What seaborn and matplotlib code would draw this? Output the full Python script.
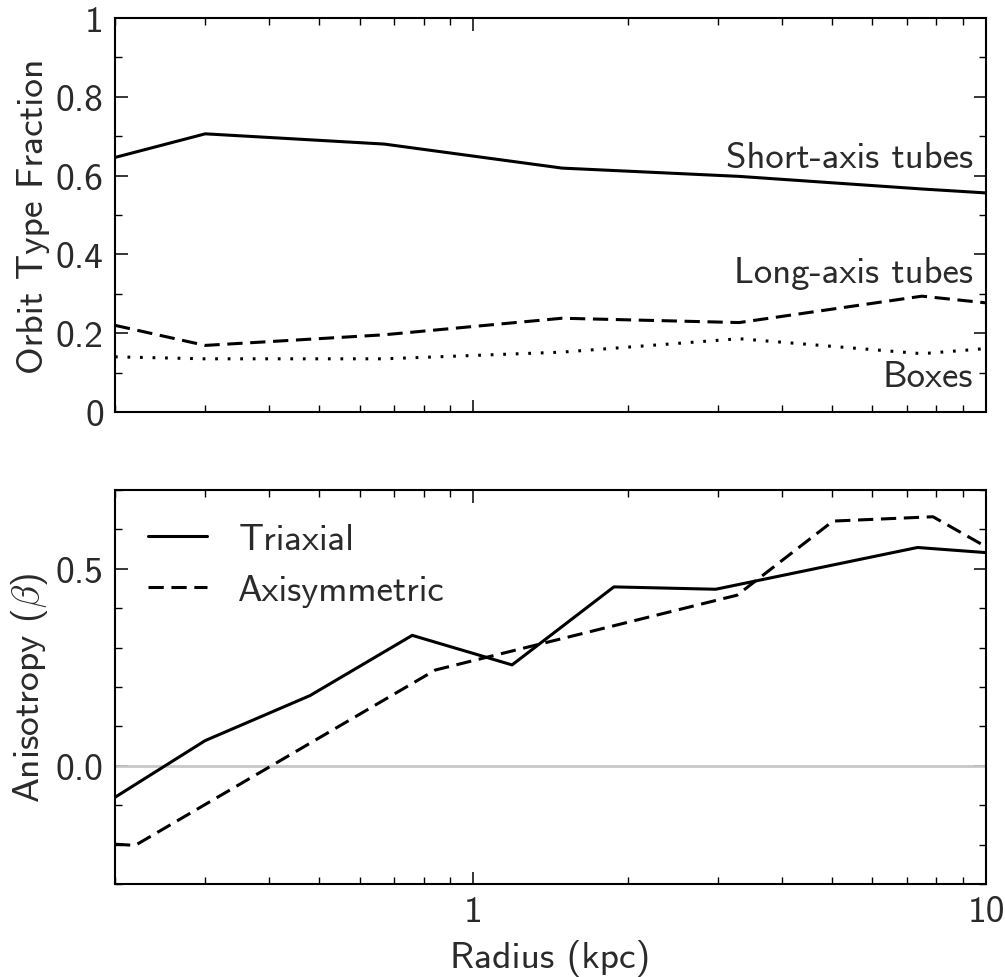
import numpy as np
import pandas as pd
import matplotlib
matplotlib.use("Agg")
import matplotlib.pyplot as plt
import matplotlib.ticker as mticker
import seaborn as sns

# ---- data ----
radius_top = [0.2, 0.3, 0.67, 1.49, 3.3, 7.5, 10.0]
short_axis = [0.646, 0.706, 0.680, 0.619, 0.598, 0.566, 0.556]
long_axis = [0.220, 0.169, 0.196, 0.238, 0.227, 0.294, 0.277]
boxes = [0.140, 0.135, 0.135, 0.152, 0.186, 0.148, 0.161]

radius_tri = [0.2, 0.3, 0.48, 0.76, 1.19, 1.88, 2.97, 7.35, 10.0]
beta_tri = [-0.080, 0.064, 0.178, 0.331, 0.256, 0.454, 0.448, 0.554, 0.541]

radius_axi = [0.2, 0.219, 0.843, 3.27, 5.03, 7.88, 10.0]
beta_axi = [-0.199, -0.202, 0.243, 0.433, 0.621, 0.632, 0.556]

top_labels = ["Short-axis tubes", "Long-axis tubes", "Boxes"]
legend_labels = ["Triaxial", "Axisymmetric"]

sns.set_theme(style="ticks")
plt.rcParams.update({
    "font.family": ["cmss10", "DejaVu Sans"],
    "mathtext.fontset": "cm",
    "axes.unicode_minus": False,
    "axes.formatter.use_mathtext": True,
    "xtick.direction": "in",
    "ytick.direction": "in",
    "xtick.top": True,
    "ytick.right": True,
    "xtick.major.size": 9,
    "ytick.major.size": 9,
    "xtick.minor.size": 5,
    "ytick.minor.size": 5,
    "xtick.major.width": 1.1,
    "ytick.major.width": 1.1,
    "xtick.minor.width": 1.0,
    "ytick.minor.width": 1.0,
    "axes.linewidth": 1.5,
    "axes.edgecolor": "black",
    "xtick.color": "black",
    "ytick.color": "black",
    "xtick.labelcolor": "#2a2a2a",
    "ytick.labelcolor": "#2a2a2a",
    "text.color": "#2a2a2a",
    "axes.labelcolor": "#2a2a2a",
})

fig = plt.figure(figsize=(10.05, 9.78), dpi=100)
ax1 = fig.add_axes([0.1144, 0.5777, 0.8667, 0.4029])
ax2 = fig.add_axes([0.1144, 0.0951, 0.8667, 0.4029])

lw = 2.2
dash_style = (0, (5.0, 2.5))
dot_style = (0, (0.9, 3.2))
FS = 26.5

for ax in (ax1, ax2):
    ax.set_xscale("log")

df_top = pd.DataFrame({"r": radius_top, "s": short_axis, "l": long_axis, "b": boxes})
sns.lineplot(data=df_top, x="r", y="s", ax=ax1, color="black", lw=lw, linestyle="-")
sns.lineplot(data=df_top, x="r", y="l", ax=ax1, color="black", lw=lw, linestyle=dash_style)
sns.lineplot(data=df_top, x="r", y="b", ax=ax1, color="black", lw=lw, linestyle=dot_style)

ax1.set_xlim(0.2, 10)
ax1.set_ylim(0, 1)
ax1.yaxis.set_major_locator(mticker.FixedLocator([0, 0.2, 0.4, 0.6, 0.8, 1.0]))
ax1.yaxis.set_major_formatter(mticker.FixedFormatter(["0", "0.2", "0.4", "0.6", "0.8", "1"]))
ax1.yaxis.set_minor_locator(mticker.MultipleLocator(0.1))
ax1.set_ylabel("Orbit Type Fraction", fontsize=FS + 0.5)
ax1.set_xlabel("")
ax1.tick_params(axis="x", which="both", labelbottom=False)

tx = 0.985
ax1.text(tx, 0.622, top_labels[0], transform=ax1.transAxes, ha="right", va="baseline", fontsize=FS)
ax1.text(tx, 0.330, top_labels[1], transform=ax1.transAxes, ha="right", va="baseline", fontsize=FS)
ax1.text(tx, 0.066, top_labels[2], transform=ax1.transAxes, ha="right", va="baseline", fontsize=FS)

ax2.axhline(0.0, color="#c8c8c8", lw=2.0, zorder=1)
df_tri = pd.DataFrame({"r": radius_tri, "beta": beta_tri})
df_axi = pd.DataFrame({"r": radius_axi, "beta": beta_axi})
sns.lineplot(data=df_tri, x="r", y="beta", ax=ax2, color="black", lw=lw,
             linestyle="-", label=legend_labels[0])
sns.lineplot(data=df_axi, x="r", y="beta", ax=ax2, color="black", lw=lw,
             linestyle=dash_style, label=legend_labels[1])

ax2.set_xlim(0.2, 10)
ax2.set_ylim(-0.3, 0.7)
ax2.yaxis.set_major_locator(mticker.FixedLocator([0.0, 0.5]))
ax2.yaxis.set_major_formatter(mticker.FixedFormatter(["0.0", "0.5"]))
ax2.yaxis.set_minor_locator(mticker.MultipleLocator(0.1))
ax2.set_ylabel(r"Anisotropy ($\beta$)", fontsize=FS + 0.5)
ax2.set_xlabel("Radius (kpc)", fontsize=FS + 0.5, labelpad=8)

for ax in (ax1, ax2):
    ax.xaxis.set_major_locator(mticker.FixedLocator([1, 10]))
    ax.xaxis.set_major_formatter(mticker.FixedFormatter(["1", "10"]))
    ax.xaxis.set_minor_locator(mticker.LogLocator(base=10, subs=np.arange(2, 10), numticks=20))
    ax.xaxis.set_minor_formatter(mticker.NullFormatter())
    ax.tick_params(axis="both", which="major", labelsize=27, pad=8)
    for sp in ax.spines.values():
        sp.set_visible(True)

leg = ax2.legend(loc="upper left", frameon=False, fontsize=FS, handlelength=1.6,
                 handletextpad=0.85, labelspacing=0.48, borderaxespad=0.5)
if ax1.get_legend() is not None:
    ax1.get_legend().remove()

fig.align_ylabels([ax1, ax2])
fig.savefig("out.png", dpi=100)
